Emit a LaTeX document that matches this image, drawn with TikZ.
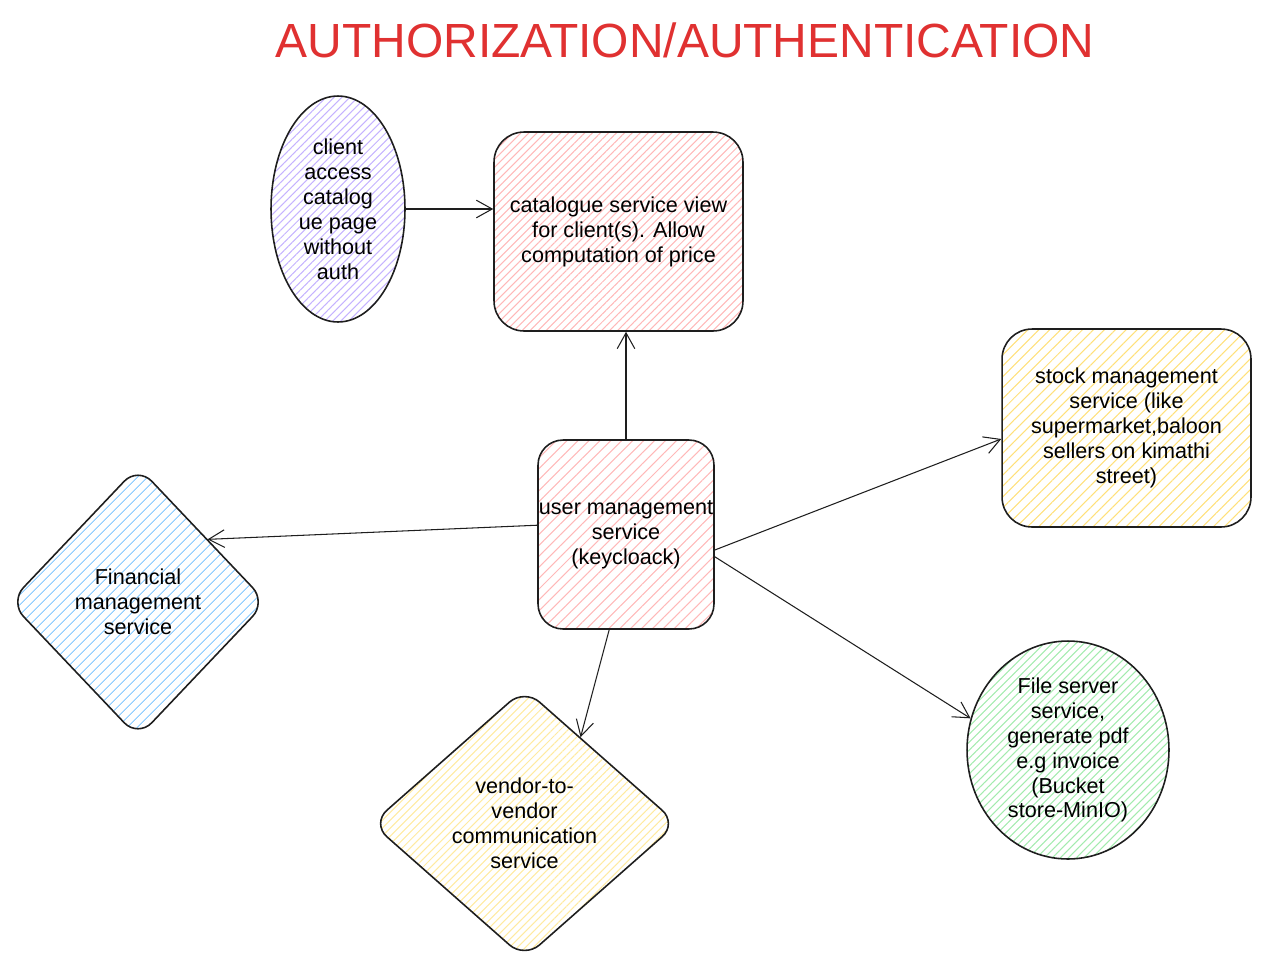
\documentclass[tikz,border=0pt]{standalone}
\usepackage{fontspec}
\setmainfont{Liberation Sans}
\usetikzlibrary{arrows.meta, patterns.meta, shapes.geometric, positioning}
\definecolor{ink}{HTML}{1E1E1E}
\definecolor{titlered}{HTML}{E03131}
\definecolor{hviolet}{HTML}{C5B3FF}
\definecolor{hpink}{HTML}{FFB8B8}
\definecolor{hyellow}{HTML}{FFE07A}
\definecolor{hpale}{HTML}{FFEAA0}
\definecolor{hblue}{HTML}{94CFFF}
\definecolor{hgreen}{HTML}{A3EBAE}
\tikzset{
  >={Straight Barb[length=9pt, width=10pt]},
  every picture/.style={line cap=round, line join=round},
  % all shapes share the sketch outline and the label font
  svc/.style={draw=ink, line width=0.9pt, align=center, inner sep=0pt,
    font=\fontsize{12.3}{14.2}\selectfont},
  % hatched fill: colour and line spacing
  hatch/.style 2 args={pattern={Lines[angle=45, distance=#2, line width=0.6pt]}, pattern color=#1},
  card/.style={svc, rectangle, rounded corners=0.6cm},
  oval/.style={svc, ellipse},
  rhomb/.style={svc, diamond, rounded corners=0.4cm},
  link/.style={->, draw=ink, line width=0.6pt},
}

\begin{document}
\begin{tikzpicture}[x=0.02cm, y=-0.02cm]
  \useasboundingbox (0,0) rectangle (1273,964);
  \node[text=titlered, font=\fontsize{27.3}{30}\selectfont] (title) at (685,40) {AUTHORIZATION/AUTHENTICATION};
  % services
  \node[oval, hatch={hviolet}{3.2pt}, minimum width=2.68cm, minimum height=4.52cm] (client) at (338,209)
    {client\\access\\catalog\\ue page\\without\\auth};
  \node[card, hatch={hpink}{3.2pt}, minimum width=4.98cm, minimum height=3.98cm] (catalog) at (618.5,231.5)
    {catalogue service view\\for client(s). Allow\\computation of price};
  \node[card, hatch={hpink}{4.4pt}, rounded corners=0.5cm, minimum width=3.52cm, minimum height=3.78cm] (user) at (626,534.5)
    {user management\\service\\(keycloack)};
  \node[card, hatch={hyellow}{4.4pt}, minimum width=4.98cm, minimum height=3.96cm] (stock) at (1126.5,428)
    {stock management\\service (like\\supermarket,baloon\\sellers on kimathi\\street)};
  \node[rhomb, hatch={hblue}{4pt}, minimum width=5.14cm, minimum height=5.42cm] (finance) at (138,602)
    {Financial\\management\\service};
  \node[rhomb, hatch={hpale}{3.2pt}, minimum width=6.12cm, minimum height=5.4cm] (vendor) at (524.5,823.5)
    {vendor-to-\\vendor\\communication\\service};
  \node[oval, hatch={hgreen}{3.2pt}, minimum width=4.04cm, minimum height=4.36cm] (files) at (1068,750)
    {File server\\service,\\generate pdf\\e.g invoice\\(Bucket\\store-MinIO)};
  % connectors
  \draw[link] (client.east) -- (client.east -| catalog.west);
  \draw[link] (user.north) -- (user.north |- catalog.south);
  \draw[link] (user.-10) -- (stock.185);
  \draw[link] (user.-14) -- (files.162);
  \draw[link] (user.174) -- (finance.42);
  \draw[link] (user.-100) -- (vendor.57);
\end{tikzpicture}
\end{document}
